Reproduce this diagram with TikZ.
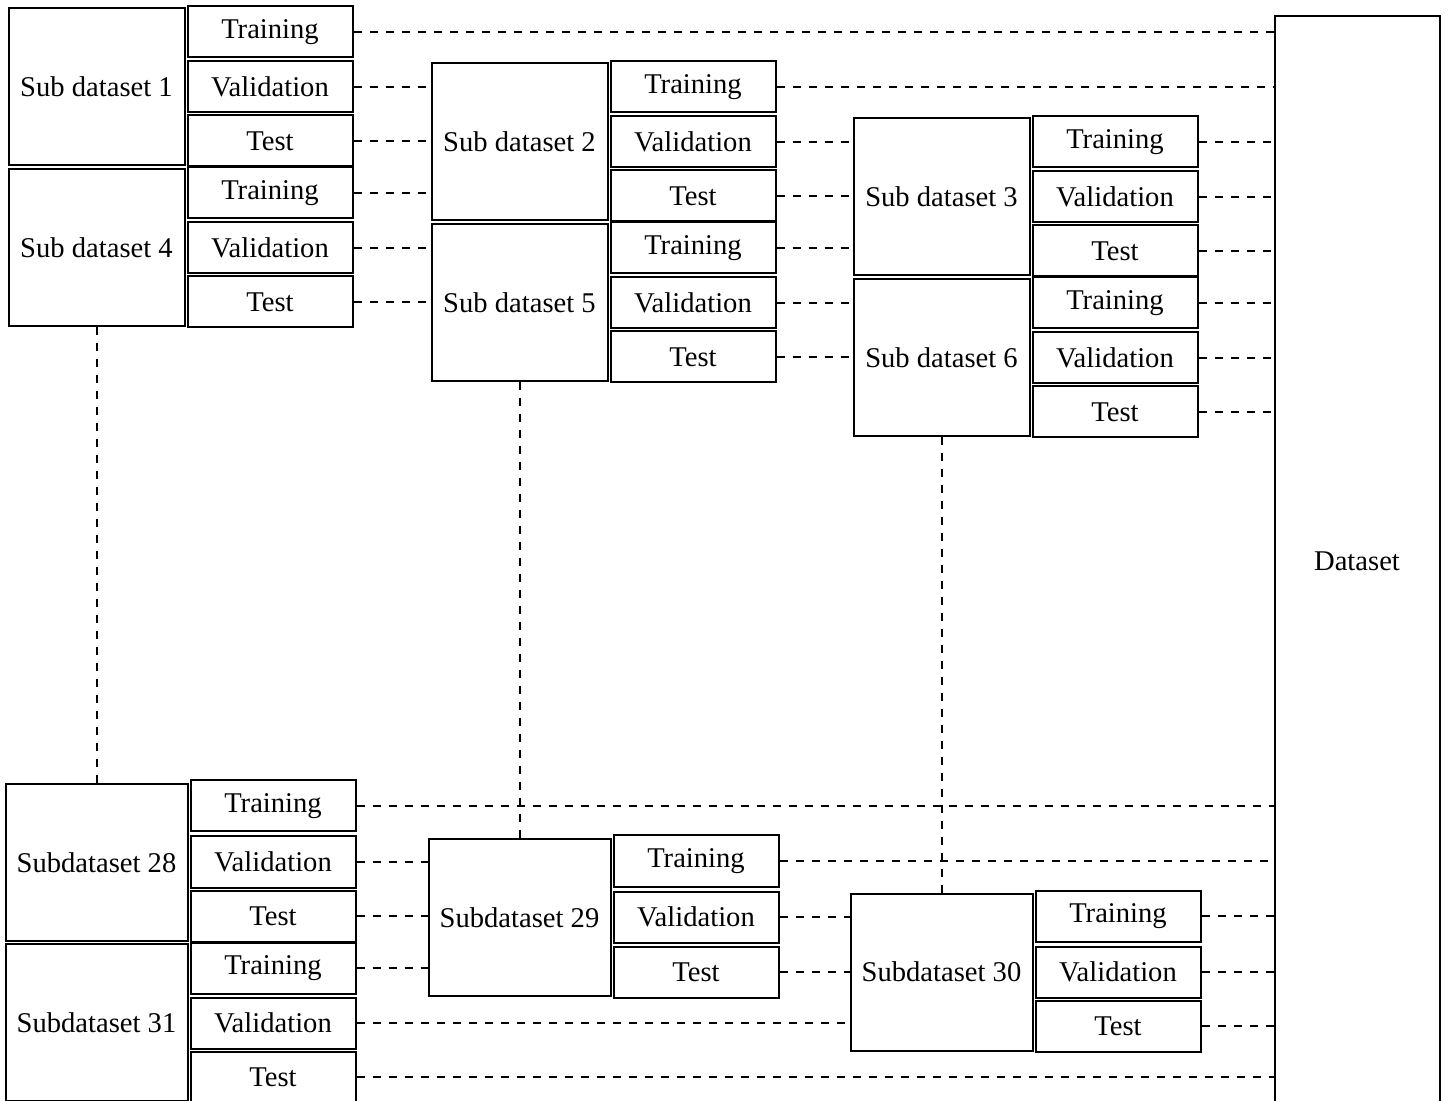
\documentclass[tikz,border=0pt]{standalone}
\usepackage{fontspec}
\setmainfont{Liberation Serif}
\usepackage{tikz}
\usetikzlibrary{positioning}

\begin{document}
\begin{tikzpicture}[x=0.5pt, y=-0.5pt,
        font=\fontsize{14.3}{16}\selectfont,
        sub/.style={draw, line width=1pt, minimum width=88pt, minimum height=78.5pt, inner sep=0pt},
        subwide/.style={sub, minimum width=91pt},
        part/.style={draw, line width=1pt, minimum width=82.5pt, minimum height=25.5pt, inner sep=0pt},
        link/.style={line width=1pt, dash pattern=on 4pt off 4pt}]
        \useasboundingbox (0,0) rectangle (1453,1101);
        % whole dataset
        \node[draw, line width=1pt, minimum width=82.5pt, minimum height=545pt] (ds) at (1357,561) {Dataset};
        % first row of sub datasets
        \node[sub] (s1) at (96.5,87) {Sub dataset 1};
        \node[part] (s1tr) at (270,32) {Training};
        \node[part] (s1va) at (270,87) {Validation};
        \node[part] (s1te) at (270,141) {Test};
        \node[sub] (s4) at (96.5,247.5) {Sub dataset 4};
        \node[part] (s4tr) at (270,193) {Training};
        \node[part] (s4va) at (270,248) {Validation};
        \node[part] (s4te) at (270,302) {Test};
        \node[sub] (s2) at (519.5,142) {Sub dataset 2};
        \node[part] (s2tr) at (693,87) {Training};
        \node[part] (s2va) at (693,142) {Validation};
        \node[part] (s2te) at (693,196) {Test};
        \node[sub] (s5) at (519.5,302.5) {Sub dataset 5};
        \node[part] (s5tr) at (693,248) {Training};
        \node[part] (s5va) at (693,303) {Validation};
        \node[part] (s5te) at (693,357) {Test};
        \node[sub] (s3) at (941.5,197) {Sub dataset 3};
        \node[part] (s3tr) at (1115,142) {Training};
        \node[part] (s3va) at (1115,197) {Validation};
        \node[part] (s3te) at (1115,251) {Test};
        \node[sub] (s6) at (941.5,357.5) {Sub dataset 6};
        \node[part] (s6tr) at (1115,303) {Training};
        \node[part] (s6va) at (1115,358) {Validation};
        \node[part] (s6te) at (1115,412) {Test};
        % last row of sub datasets
        \node[subwide] (s28) at (96.5,862.5) {Subdataset 28};
        \node[part] (s28tr) at (273,806) {Training};
        \node[part] (s28va) at (273,862) {Validation};
        \node[part] (s28te) at (273,916) {Test};
        \node[subwide] (s31) at (96.5,1022.5) {Subdataset 31};
        \node[part] (s31tr) at (273,968) {Training};
        \node[part] (s31va) at (273,1023) {Validation};
        \node[part] (s31te) at (273,1077) {Test};
        \node[subwide] (s29) at (519.5,917.5) {Subdataset 29};
        \node[part] (s29tr) at (696,861) {Training};
        \node[part] (s29va) at (696,917) {Validation};
        \node[part] (s29te) at (696,972) {Test};
        \node[subwide] (s30) at (941.5,972) {Subdataset 30};
        \node[part] (s30tr) at (1118,916) {Training};
        \node[part] (s30va) at (1118,972) {Validation};
        \node[part] (s30te) at (1118,1026) {Test};
        % links of the first row
        \draw[link] (s1tr.east) -- (s1tr.east -| ds.west);
        \draw[link] (s1va.east) -- (s1va.east -| s2.west);
        \draw[link] (s1te.east) -- (s1te.east -| s2.west);
        \draw[link] (s4tr.east) -- (s4tr.east -| s2.west);
        \draw[link] (s4va.east) -- (s4va.east -| s5.west);
        \draw[link] (s4te.east) -- (s4te.east -| s5.west);
        \draw[link] (s2tr.east) -- (s2tr.east -| ds.west);
        \draw[link] (s2va.east) -- (s2va.east -| s3.west);
        \draw[link] (s2te.east) -- (s2te.east -| s3.west);
        \draw[link] (s5tr.east) -- (s5tr.east -| s6.west);
        \draw[link] (s5va.east) -- (s5va.east -| s6.west);
        \draw[link] (s5te.east) -- (s5te.east -| s6.west);
        \draw[link] (s3tr.east) -- (s3tr.east -| ds.west);
        \draw[link] (s3va.east) -- (s3va.east -| ds.west);
        \draw[link] (s3te.east) -- (s3te.east -| ds.west);
        \draw[link] (s6tr.east) -- (s6tr.east -| ds.west);
        \draw[link] (s6va.east) -- (s6va.east -| ds.west);
        \draw[link] (s6te.east) -- (s6te.east -| ds.west);
        % skipped sub datasets
        \draw[link] (s4.south) -- (s28.north);
        \draw[link] (s5.south) -- (s29.north);
        \draw[link] (s6.south) -- (s30.north);
        % links of the last row
        \draw[link] (s28tr.east) -- (s28tr.east -| ds.west);
        \draw[link] (s28va.east) -- (s28va.east -| s29.west);
        \draw[link] (s28te.east) -- (s28te.east -| s29.west);
        \draw[link] (s31tr.east) -- (s31tr.east -| s29.west);
        \draw[link] (s31va.east) -- (s31va.east -| s30.west);
        \draw[link] (s31te.east) -- (s31te.east -| ds.west);
        \draw[link] (s29tr.east) -- (s29tr.east -| ds.west);
        \draw[link] (s29va.east) -- (s29va.east -| s30.west);
        \draw[link] (s29te.east) -- (s29te.east -| s30.west);
        \draw[link] (s30tr.east) -- (s30tr.east -| ds.west);
        \draw[link] (s30va.east) -- (s30va.east -| ds.west);
        \draw[link] (s30te.east) -- (s30te.east -| ds.west);
    \end{tikzpicture}
\end{document}
